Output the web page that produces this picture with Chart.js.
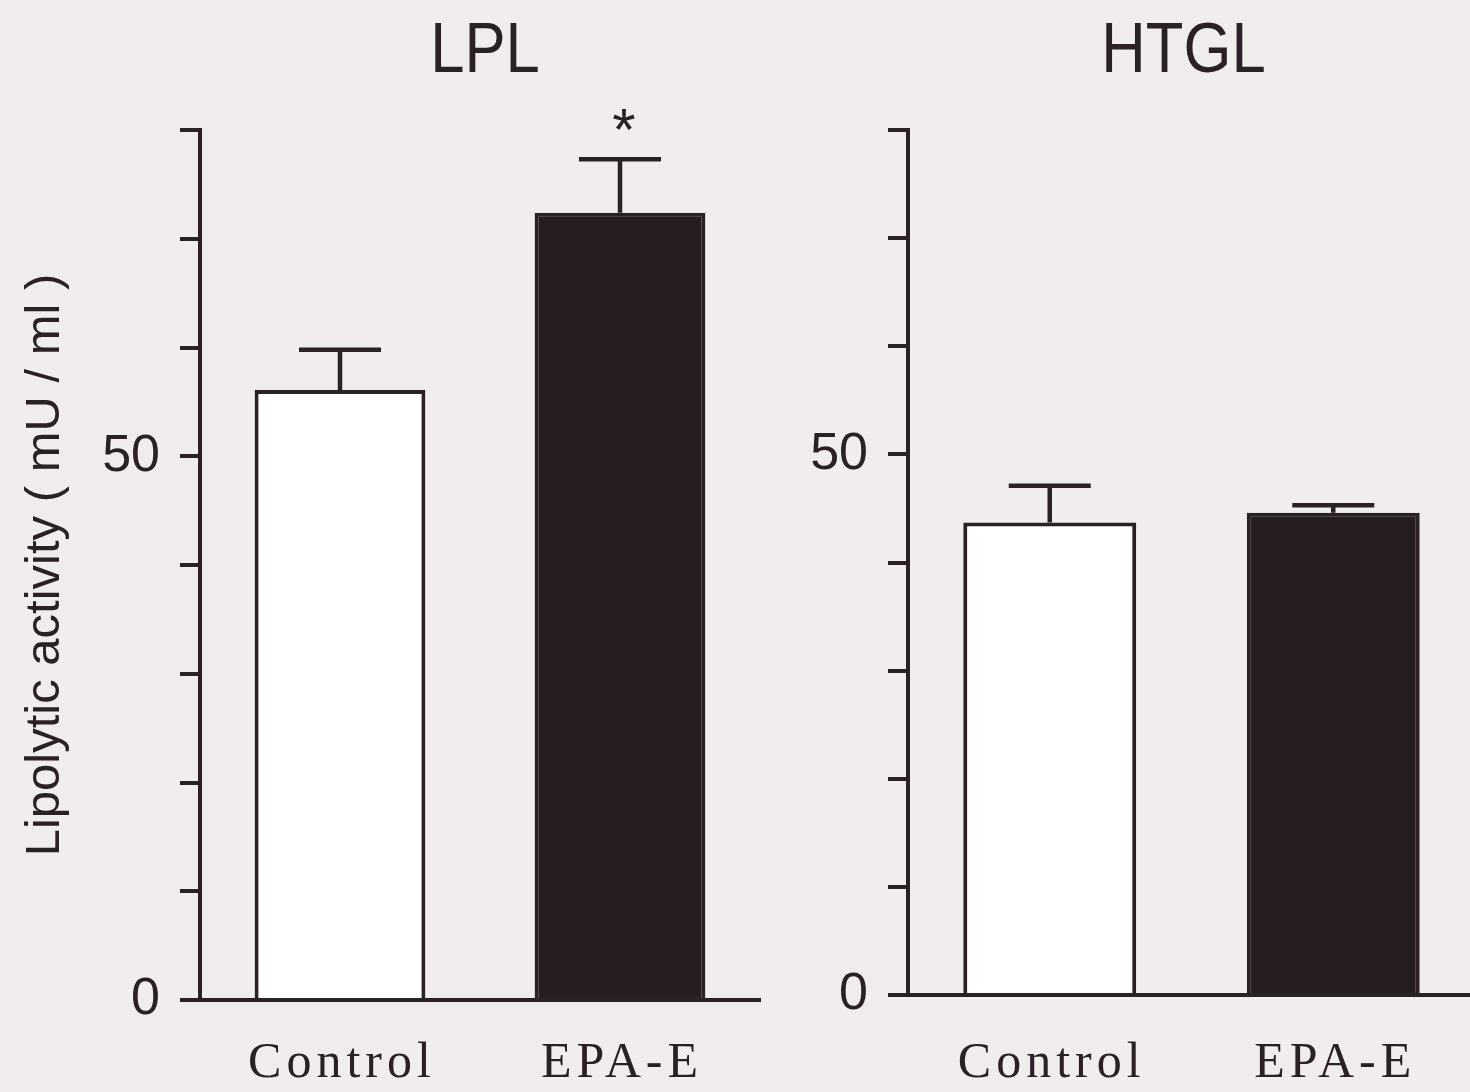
<!DOCTYPE html>
<html>
<head>
<meta charset="utf-8">
<title>Lipolytic activity</title>
<script src="https://cdn.jsdelivr.net/npm/chart.js@4.4.0/dist/chart.umd.min.js"></script>
<style>
  html, body { margin: 0; padding: 0; width: 1470px; height: 1092px; overflow: hidden; background: #f2eded; }
  canvas { position: absolute; top: 0; }
  #lplChart { left: 0; }
  #htglChart { left: 780px; }
</style>
</head>
<body>
<canvas id="lplChart" width="780" height="1092"></canvas>
<canvas id="htglChart" width="700" height="1092"></canvas>
<script>
// datos
const categorias = ["Control", "EPA-E"];
const lplMedia = [56.1, 72.4];
const lplError = [3.7, 4.9];
const lplSignif = ["", "*"];
const htglMedia = [43.7, 44.6];
const htglError = [3.4, 0.7];
const htglSignif = ["", ""];
const yMax = 80;
const yPaso = 10;
const yEtiquetas = [0, 50];

const tinta = "#2a2125";
const relleno = ["#ffffff", "#261d21"];

// barras de error, asterisco, título y nombres de grupo
const anotaciones = {
  id: "anotaciones",
  afterDatasetsDraw(chart, args, opts) {
    const ctx = chart.ctx;
    const meta = chart.getDatasetMeta(0);
    const y = chart.scales.y;
    const media = chart.data.datasets[0].data;
    ctx.save();
    ctx.strokeStyle = tinta;
    ctx.fillStyle = tinta;
    ctx.lineWidth = 4.5;
    meta.data.forEach(function (barra, i) {
      var yBarra = y.getPixelForValue(media[i]);
      var yTope = y.getPixelForValue(media[i] + opts.error[i]);
      ctx.beginPath();
      ctx.moveTo(barra.x, yBarra);
      ctx.lineTo(barra.x, yTope);
      ctx.moveTo(barra.x - 41, yTope);
      ctx.lineTo(barra.x + 41, yTope);
      ctx.stroke();
      if (opts.signif[i]) {
        ctx.font = "60px 'Liberation Sans', Arial, sans-serif";
        ctx.textAlign = "center";
        ctx.textBaseline = "alphabetic";
        ctx.fillText(opts.signif[i], barra.x + 4, yTope - 9);
      }
      // nombre del grupo bajo el eje
      ctx.font = "50px 'Liberation Serif', 'Times New Roman', serif";
      ctx.letterSpacing = "5px";
      ctx.textAlign = "center";
      ctx.fillText(chart.data.labels[i], barra.x + 2, 1077);
      ctx.letterSpacing = "0px";
    });
    // título estrechado
    const area = chart.chartArea;
    ctx.font = "70px 'Liberation Sans', Arial, sans-serif";
    ctx.textAlign = "center";
    ctx.translate((area.left + area.right) / 2 + opts.dx, 72);
    ctx.scale(0.88, 1);
    ctx.fillText(opts.titulo, 0, 0);
    ctx.restore();
  }
};

function opciones(titulo, error, signif, dx, anchoY, altoX, derecha, tituloY) {
  return {
    responsive: false,
    animation: false,
    layout: { padding: { top: 130, right: derecha, bottom: 0, left: 0 } },
    plugins: {
      legend: { display: false },
      tooltip: { enabled: false },
      anotaciones: { titulo: titulo, error: error, signif: signif, dx: dx }
    },
    scales: {
      x: {
        ticks: { display: false },
        grid: { display: false },
        border: { color: tinta, width: 4 },
        afterFit: function (scale) { scale.height = altoX; }
      },
      y: {
        min: 0,
        max: yMax,
        ticks: {
          stepSize: yPaso,
          autoSkip: false,
          padding: 20,
          color: tinta,
          font: { family: "'Liberation Sans', Arial, sans-serif", size: 52 },
          callback: function (v) { return yEtiquetas.includes(v) ? v : ""; }
        },
        grid: {
          drawOnChartArea: false,
          tickLength: 20,
          lineWidth: 4,
          color: tinta
        },
        border: { color: tinta, width: 4 },
        title: {
          display: tituloY !== "",
          text: tituloY,
          color: tinta,
          padding: { top: 16, bottom: 0 },
          font: { family: "'Liberation Sans', Arial, sans-serif", size: 49 }
        },
        afterFit: function (scale) { scale.width = anchoY; }
      }
    }
  };
}

const lplChart = new Chart("lplChart", {
  type: "bar",
  data: {
    labels: categorias,
    datasets: [{
      data: lplMedia,
      backgroundColor: relleno,
      borderColor: tinta,
      borderWidth: 4,
      barPercentage: 0.61,
      categoryPercentage: 1
    }]
  },
  options: opciones("LPL", lplError, lplSignif, 5, 200, 92, 20, "Lipolytic activity ( mU / ml )"),
  plugins: [anotaciones]
});

const htglChart = new Chart("htglChart", {
  type: "bar",
  data: {
    labels: categorias,
    datasets: [{
      data: htglMedia,
      backgroundColor: relleno,
      borderColor: tinta,
      borderWidth: 4,
      barPercentage: 0.61,
      categoryPercentage: 1
    }]
  },
  options: opciones("HTGL", htglError, htglSignif, -8, 128, 97, 5, ""),
  plugins: [anotaciones]
});
</script>
</body>
</html>
